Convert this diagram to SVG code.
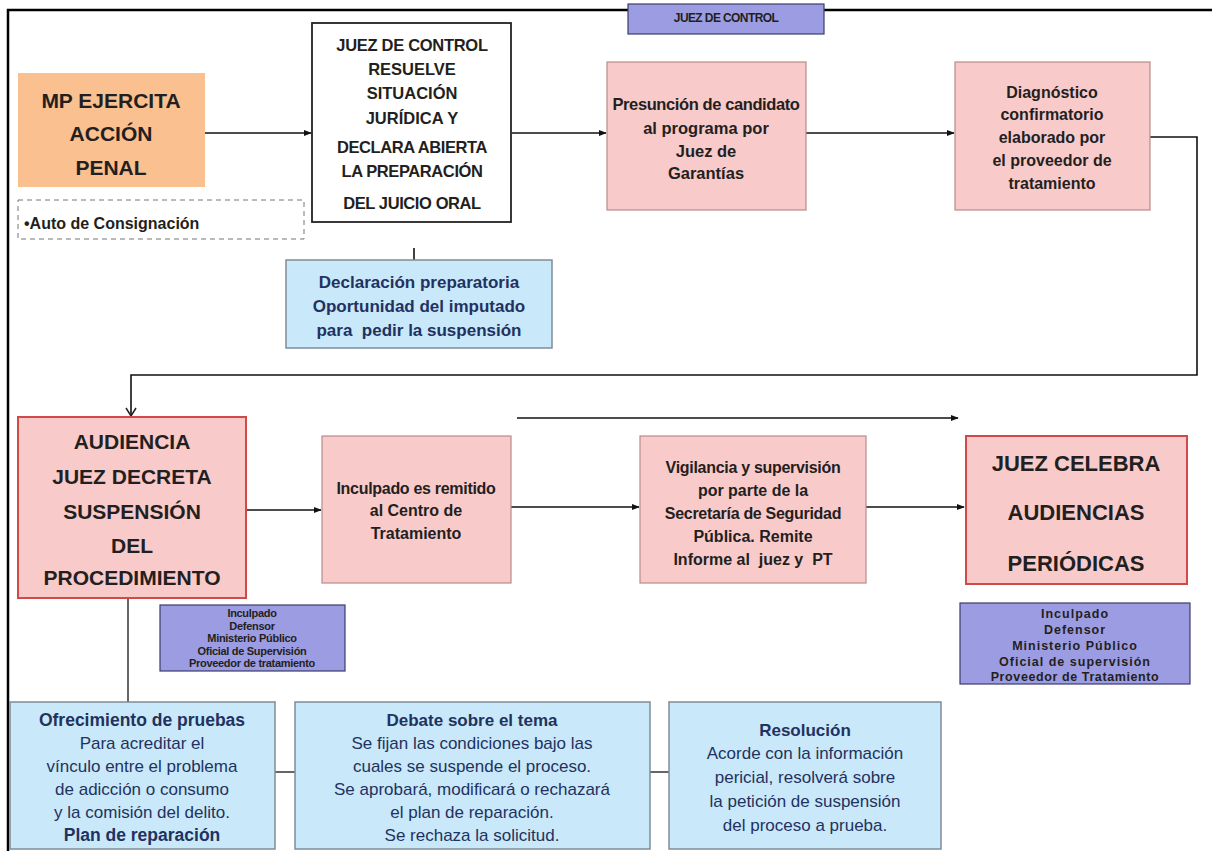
<svg xmlns="http://www.w3.org/2000/svg" width="1212" height="851" viewBox="0 0 1212 851">
<defs>
<marker id="ah" viewBox="0 0 10 10" refX="9" refY="5" markerWidth="8" markerHeight="8" markerUnits="userSpaceOnUse" orient="auto">
<path d="M0,1 L10,5 L0,9 Z" fill="#111"/>
</marker>
<marker id="av" viewBox="0 0 12 12" refX="6" refY="11" markerWidth="12" markerHeight="12" markerUnits="userSpaceOnUse" orient="0">
<path d="M1,3 L6,11 L11,3" fill="none" stroke="#222" stroke-width="1.5"/>
</marker>
<style>
.t{font-family:"Liberation Sans",Arial,sans-serif;font-weight:bold;fill:#231f20;text-anchor:middle}
.tb{font-family:"Liberation Sans",Arial,sans-serif;fill:#1f3260;text-anchor:middle}
.pink{fill:#f9caca;stroke:#b98a8a;stroke-width:1.2}
.pinkr{fill:#f9caca;stroke:#d04a4a;stroke-width:2}
.purple{fill:#9c9ce2;stroke:#3c3c6c;stroke-width:1.2}
.blue{fill:#c9e8f9;stroke:#7f8c99;stroke-width:1.5}
.ln{stroke:#111;stroke-width:1.6;fill:none}
.lg{stroke:#555;stroke-width:1.8;fill:none}
</style>
</defs>
<rect width="1212" height="851" fill="#ffffff"/>
<path d="M8,851 V10 H1212" fill="none" stroke="#000" stroke-width="2.5"/>

<g id="connectors">
<line class="ln" x1="205" y1="133" x2="311" y2="133" marker-end="url(#ah)"/>
<line class="ln" x1="512" y1="133" x2="606" y2="133" marker-end="url(#ah)"/>
<line class="ln" x1="806" y1="133" x2="954" y2="133" marker-end="url(#ah)"/>
<path class="ln" d="M1150,137 H1197 V375 H131 V416" marker-end="url(#av)"/>
<line class="ln" x1="414" y1="248" x2="414" y2="260"/>
<line class="ln" x1="246" y1="510" x2="321" y2="510" marker-end="url(#ah)"/>
<line class="ln" x1="511" y1="507" x2="639" y2="507" marker-end="url(#ah)"/>
<line class="ln" x1="866" y1="507" x2="964" y2="507" marker-end="url(#ah)"/>
<line class="ln" x1="517" y1="418" x2="958" y2="418" marker-end="url(#ah)"/>
<line class="lg" x1="128" y1="598" x2="128" y2="702"/>
<line class="lg" x1="275" y1="772" x2="295" y2="772"/>
<line class="lg" x1="650" y1="772" x2="669" y2="772"/>
</g>

<g id="juez-control-top">
<rect class="purple" x="628" y="4" width="196" height="30"/>
<text class="t" x="726" y="22" font-size="12" letter-spacing="-0.6">JUEZ DE CONTROL</text>
</g>

<g id="mp">
<rect x="18" y="73" width="187" height="114" fill="#fac08f"/>
<text class="t" font-size="21" x="111" y="108">MP EJERCITA</text>
<text class="t" font-size="21" x="111" y="141">ACCIÓN</text>
<text class="t" font-size="21" x="111" y="175">PENAL</text>
</g>

<g id="auto">
<rect x="18" y="200" width="286" height="39" fill="none" stroke="#777" stroke-width="1" stroke-dasharray="5,4"/>
<text class="t" font-size="16" x="24" y="229" style="text-anchor:start">•Auto de Consignación</text>
</g>

<g id="juez">
<rect x="312" y="23" width="199" height="199" fill="#fff" stroke="#222" stroke-width="1.8"/>
<text class="t" font-size="16.5" x="412" y="51" letter-spacing="-0.3">JUEZ DE CONTROL</text>
<text class="t" font-size="16.5" x="412" y="75">RESUELVE</text>
<text class="t" font-size="16.5" x="412" y="99">SITUACIÓN</text>
<text class="t" font-size="16.5" x="412" y="124">JURÍDICA Y</text>
<text class="t" font-size="16.5" x="412" y="153" letter-spacing="-0.4">DECLARA ABIERTA</text>
<text class="t" font-size="16.5" x="412" y="177" letter-spacing="-0.4">LA PREPARACIÓN</text>
<text class="t" font-size="16.5" x="412" y="209" letter-spacing="-0.4">DEL JUICIO ORAL</text>
</g>

<g id="declaracion">
<rect class="blue" x="286" y="260" width="266" height="88"/>
<text class="tb" font-weight="bold" font-size="17" x="419" y="288">Declaración preparatoria</text>
<text class="tb" font-weight="bold" font-size="17" x="419" y="312">Oportunidad del imputado</text>
<text class="tb" font-weight="bold" font-size="17" x="419" y="336" xml:space="preserve">para  pedir la suspensión</text>
</g>

<g id="presuncion">
<rect class="pink" x="607" y="62" width="199" height="148"/>
<text class="t" font-size="16.5" x="706" y="110" letter-spacing="-0.4">Presunción de candidato</text>
<text class="t" font-size="16.5" x="706" y="134">al programa por</text>
<text class="t" font-size="16.5" x="706" y="157">Juez de</text>
<text class="t" font-size="16.5" x="706" y="179">Garantías</text>
</g>

<g id="diagnostico">
<rect class="pink" x="955" y="62" width="195" height="148"/>
<text class="t" font-size="16" x="1052" y="98">Diagnóstico</text>
<text class="t" font-size="16" x="1052" y="120">confirmatorio</text>
<text class="t" font-size="16" x="1052" y="143">elaborado por</text>
<text class="t" font-size="16" x="1052" y="166">el proveedor de</text>
<text class="t" font-size="16" x="1052" y="189">tratamiento</text>
</g>

<g id="audiencia">
<rect class="pinkr" x="18" y="417" width="228" height="181"/>
<text class="t" font-size="21" x="132" y="449">AUDIENCIA</text>
<text class="t" font-size="21" x="132" y="484">JUEZ DECRETA</text>
<text class="t" font-size="21" x="132" y="519">SUSPENSIÓN</text>
<text class="t" font-size="21" x="132" y="553">DEL</text>
<text class="t" font-size="21" x="132" y="585">PROCEDIMIENTO</text>
</g>

<g id="inculpado">
<rect class="pink" x="322" y="436" width="189" height="147"/>
<text class="t" font-size="16" x="416" y="494" letter-spacing="-0.3">Inculpado es remitido</text>
<text class="t" font-size="16" x="416" y="516">al Centro de</text>
<text class="t" font-size="16" x="416" y="539">Tratamiento</text>
</g>

<g id="vigilancia">
<rect class="pink" x="640" y="436" width="226" height="147"/>
<text class="t" font-size="16" x="753" y="473" letter-spacing="-0.3">Vigilancia y supervisión</text>
<text class="t" font-size="16" x="753" y="496">por parte de la</text>
<text class="t" font-size="16" x="753" y="519" letter-spacing="-0.3">Secretaría de Seguridad</text>
<text class="t" font-size="16" x="753" y="542">Pública. Remite</text>
<text class="t" font-size="16" x="753" y="565" xml:space="preserve">Informe al  juez y  PT</text>
</g>

<g id="juez-celebra">
<rect class="pinkr" x="966" y="436" width="221" height="148"/>
<text class="t" font-size="22" x="1076" y="471">JUEZ CELEBRA</text>
<text class="t" font-size="22" x="1076" y="520">AUDIENCIAS</text>
<text class="t" font-size="22" x="1076" y="571">PERIÓDICAS</text>
</g>

<g id="partes-1">
<rect class="purple" x="160" y="605" width="185" height="66"/>
<text class="t" font-size="11" x="252" y="617" letter-spacing="-0.3">Inculpado</text>
<text class="t" font-size="11" x="252" y="629.5" letter-spacing="-0.3">Defensor</text>
<text class="t" font-size="11" x="252" y="642" letter-spacing="-0.3">Ministerio Público</text>
<text class="t" font-size="11" x="252" y="654.5" letter-spacing="-0.3">Oficial de Supervisión</text>
<text class="t" font-size="11" x="252" y="667" letter-spacing="-0.3">Proveedor de tratamiento</text>
</g>

<g id="partes-2">
<rect class="purple" x="960" y="603" width="230" height="81"/>
<text class="t" font-size="12.5" x="1075" y="618" letter-spacing="1">Inculpado</text>
<text class="t" font-size="12.5" x="1075" y="634" letter-spacing="1">Defensor</text>
<text class="t" font-size="12.5" x="1075" y="650" letter-spacing="1">Ministerio Público</text>
<text class="t" font-size="12.5" x="1075" y="666" letter-spacing="1">Oficial de supervisión</text>
<text class="t" font-size="12.5" x="1075" y="681" letter-spacing="0.6">Proveedor de Tratamiento</text>
</g>

<g id="ofrecimiento">
<rect class="blue" x="10" y="702" width="265" height="147"/>
<text class="tb" font-weight="bold" font-size="17.5" x="142" y="726">Ofrecimiento de pruebas</text>
<text class="tb" font-size="17" x="142" y="749">Para acreditar el</text>
<text class="tb" font-size="17" x="142" y="772">vínculo entre el problema</text>
<text class="tb" font-size="17" x="142" y="795">de adicción o consumo</text>
<text class="tb" font-size="17" x="142" y="818">y la comisión del delito.</text>
<text class="tb" font-weight="bold" font-size="17.5" x="142" y="841">Plan de reparación</text>
</g>

<g id="debate">
<rect class="blue" x="295" y="702" width="355" height="147"/>
<text class="tb" font-weight="bold" font-size="17" x="472" y="726">Debate sobre el tema</text>
<text class="tb" font-size="17" x="472" y="749">Se fijan las condiciones bajo las</text>
<text class="tb" font-size="17" x="472" y="772">cuales se suspende el proceso.</text>
<text class="tb" font-size="17" x="472" y="795">Se aprobará, modificará o rechazará</text>
<text class="tb" font-size="17" x="472" y="818">el plan de reparación.</text>
<text class="tb" font-size="17" x="472" y="841">Se rechaza la solicitud.</text>
</g>

<g id="resolucion">
<rect class="blue" x="669" y="702" width="272" height="147"/>
<text class="tb" font-weight="bold" font-size="17" x="805" y="736">Resolución</text>
<text class="tb" font-size="17" x="805" y="759">Acorde con la información</text>
<text class="tb" font-size="17" x="805" y="783">pericial, resolverá sobre</text>
<text class="tb" font-size="17" x="805" y="807">la petición de suspensión</text>
<text class="tb" font-size="17" x="805" y="831">del proceso a prueba.</text>
</g>
</svg>
